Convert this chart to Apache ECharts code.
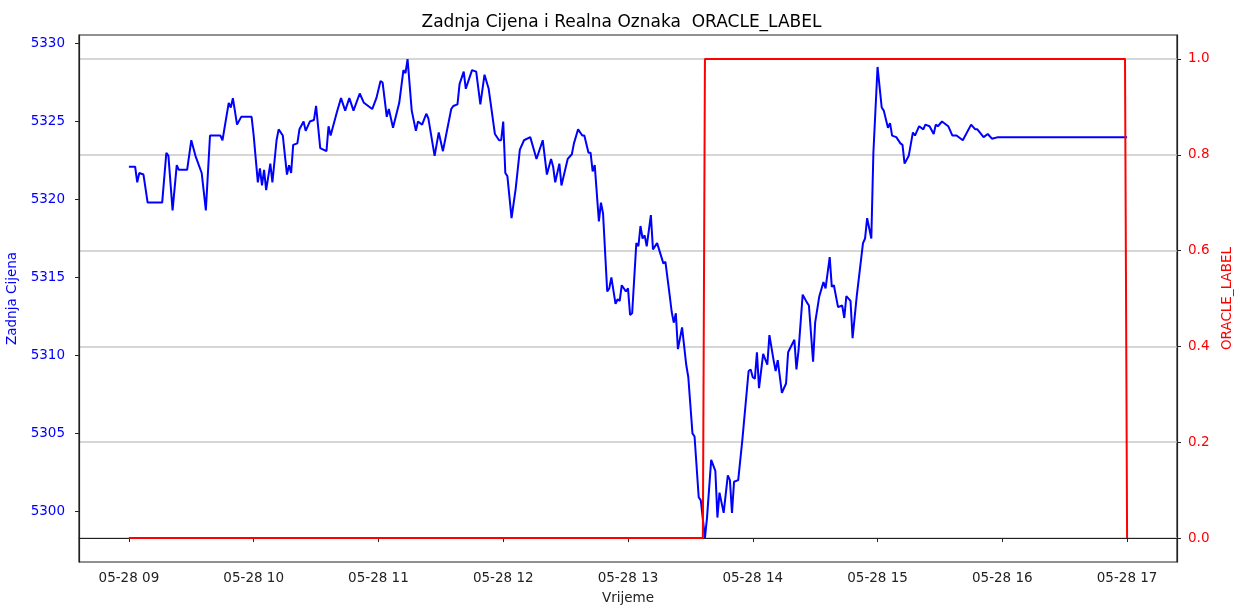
<!DOCTYPE html>
<html>
<head>
<meta charset="utf-8">
<title>Zadnja Cijena i Realna Oznaka</title>
<script src="https://cdn.jsdelivr.net/npm/echarts@6/dist/echarts.min.js"></script>
<style>
  html, body { margin: 0; padding: 0; background: #fff; }
  #chart { width: 1243px; height: 608px; }
</style>
</head>
<body>
<div id="chart"></div>
<script>
// minutes after 05-28 09:00 -> last price (Zadnja Cijena)
const priceMinutes = [
  0, 3, 4, 5, 7, 9, 16, 18, 19, 21, 23, 24, 28, 30, 32, 35, 37, 39, 44, 45,
  48, 49, 50, 52, 54, 59, 60, 62, 63, 64, 65, 66, 68, 69, 71, 72, 74, 76, 77, 78,
  79, 81, 82, 84, 85, 87, 89, 90, 92, 95, 96, 97, 100, 102, 104, 106, 108, 111, 113, 117,
  119, 121, 122, 124, 125, 127, 130, 132, 133, 134, 136, 138, 139, 141, 143, 144, 147, 149, 151, 155,
  156, 158, 159, 161, 162, 165, 167, 169, 171, 173, 176, 178, 179, 180, 181, 182, 184, 186, 188, 190,
  193, 196, 199, 201, 203, 204, 205, 207, 208, 211, 213, 214, 216, 218, 219, 221, 222, 223, 224, 226,
  227, 228, 230, 231, 232, 234, 235, 236, 237, 239, 240, 241, 242, 244, 245, 246, 247, 248, 249, 251,
  252, 254, 257, 258, 260, 261, 262, 263, 264, 266, 268, 269, 271, 272, 274, 275, 277, 278, 280, 282,
  283, 284, 286, 288, 289, 290, 291, 293, 295, 298, 299, 300, 301, 302, 303, 305, 307, 308, 310, 311,
  312, 314, 316, 317, 320, 321, 322, 324, 326, 327, 329, 330, 332, 334, 335, 337, 338, 339, 341, 343,
  344, 345, 347, 348, 350, 353, 354, 355, 357, 358, 360, 362, 363, 365, 366, 367, 369, 371, 372, 373,
  375, 377, 378, 380, 382, 383, 385, 387, 388, 389, 391, 394, 396, 398, 401, 405, 407, 408, 411, 413,
  415, 418, 480
];
const priceValues = [
  5322.1, 5322.1, 5321.1, 5321.7, 5321.6, 5319.8, 5319.8, 5323.0, 5322.8, 5319.3, 5322.2, 5321.9, 5321.9, 5323.8, 5322.8, 5321.7, 5319.3, 5324.1, 5324.1, 5323.8,
  5326.2, 5325.9, 5326.5, 5324.8, 5325.3, 5325.3, 5324.1, 5321.1, 5322.0, 5320.9, 5321.9, 5320.6, 5322.3, 5321.1, 5323.8, 5324.5, 5324.1, 5321.6, 5322.2, 5321.7,
  5323.5, 5323.6, 5324.5, 5325.0, 5324.4, 5325.0, 5325.1, 5326.0, 5323.3, 5323.1, 5324.7, 5324.1, 5325.6, 5326.5, 5325.7, 5326.5, 5325.7, 5326.8, 5326.2, 5325.8,
  5326.5, 5327.6, 5327.5, 5325.3, 5325.8, 5324.6, 5326.2, 5328.3, 5328.1, 5329.0, 5325.7, 5324.4, 5325.0, 5324.8, 5325.5, 5325.2, 5322.8, 5324.3, 5323.1, 5325.8,
  5326.0, 5326.1, 5327.4, 5328.2, 5327.1, 5328.3, 5328.2, 5326.1, 5328.0, 5327.1, 5324.2, 5323.8, 5323.8, 5325.0, 5321.7, 5321.5, 5318.8, 5320.7, 5323.2, 5323.8,
  5324.0, 5322.6, 5323.8, 5321.6, 5322.6, 5322.1, 5321.1, 5322.3, 5320.9, 5322.6, 5322.9, 5323.6, 5324.5, 5324.1, 5324.1, 5323.0, 5323.0, 5321.8, 5322.2, 5318.6,
  5319.8, 5319.1, 5314.1, 5314.3, 5315.0, 5313.3, 5313.6, 5313.5, 5314.5, 5314.1, 5314.3, 5312.6, 5312.7, 5317.2, 5317.0, 5318.3, 5317.5, 5317.7, 5317.0, 5319.0,
  5316.8, 5317.2, 5315.9, 5316.0, 5313.9, 5312.8, 5312.1, 5312.7, 5310.4, 5311.8, 5309.4, 5308.6, 5305.0, 5304.8, 5300.9, 5300.7, 5298.3, 5299.6, 5303.3, 5302.6,
  5299.6, 5301.2, 5299.9, 5302.3, 5302.0, 5299.9, 5301.9, 5302.0, 5304.6, 5309.0, 5309.1, 5308.6, 5308.5, 5310.2, 5307.9, 5310.1, 5309.4, 5311.3, 5309.7, 5309.0,
  5309.7, 5307.6, 5308.2, 5310.2, 5311.0, 5309.1, 5310.3, 5313.9, 5313.4, 5313.2, 5309.6, 5312.1, 5313.8, 5314.7, 5314.3, 5316.3, 5314.4, 5314.5, 5313.1, 5313.2,
  5312.4, 5313.8, 5313.5, 5311.1, 5313.8, 5317.2, 5317.5, 5318.8, 5317.5, 5323.0, 5328.5, 5325.9, 5325.7, 5324.6, 5324.9, 5324.1, 5324.0, 5323.6, 5323.5, 5322.3,
  5322.8, 5324.3, 5324.1, 5324.7, 5324.5, 5324.8, 5324.7, 5324.2, 5324.8, 5324.7, 5325.0, 5324.7, 5324.1, 5324.1, 5323.8, 5324.8, 5324.5, 5324.5, 5324.0, 5324.2,
  5323.9, 5324.0, 5324.0
];

// ORACLE_LABEL: 0 until 13:36, 1 from 13:37, back to 0 at 17:00
const labelMinutes = [0, 276, 277, 479, 480];
const labelValues = [0, 0, 1, 1, 0];

const hourTicks = [9, 10, 11, 12, 13, 14, 15, 16, 17];
const priceTicks = [5300, 5305, 5310, 5315, 5320, 5325, 5330];
const labelTicks = [0, 0.2, 0.4, 0.6, 0.8, 1.0];

const FONT = 'DejaVu Sans';
const start = new Date(2024, 4, 28, 9, 0, 0).getTime();
const toTime = m => start + m * 60000;
const hourTimes = hourTicks.map(h => new Date(2024, 4, 28, h, 0, 0).getTime());

const priceData = priceMinutes.map((m, i) => [toTime(m), priceValues[i]]);
const labelData = labelMinutes.map((m, i) => [toTime(m), labelValues[i]]);

const chart = echarts.init(document.getElementById('chart'));

const option = {
  backgroundColor: '#fff',
  animation: false,
  title: {
    text: 'Zadnja Cijena i Realna Oznaka  ORACLE_LABEL',
    left: 'center',
    top: 9,
    textStyle: { fontFamily: FONT, fontSize: 17, fontWeight: 'normal', color: '#000' }
  },
  grid: {
    left: 79, right: 66, top: 35, bottom: 46,
    show: true, borderColor: '#222', borderWidth: 1.2,
    outerBoundsMode: 'none'
  },
  xAxis: {
    // timestamps on a plain value axis, labelled as "MM-DD HH"
    type: 'value',
    min: toTime(-24),
    max: toTime(504),
    name: 'Vrijeme',
    nameLocation: 'middle',
    nameGap: 29,
    nameTextStyle: { fontFamily: FONT, fontSize: 13.5, color: '#222' },
    axisLine: { show: true, lineStyle: { color: '#222', width: 1.2 } },
    axisTick: { show: true, length: 4, customValues: hourTimes, lineStyle: { color: '#222' } },
    axisLabel: {
      customValues: hourTimes,
      margin: 9,
      fontFamily: FONT, fontSize: 13.5, color: '#222',
      formatter: v => '05-28 ' + String(new Date(v).getHours()).padStart(2, '0')
    },
    splitLine: { show: false }
  },
  yAxis: [
    {
      type: 'value',
      position: 'left',
      min: 5296.75,
      max: 5330.55,
      name: 'Zadnja Cijena',
      nameLocation: 'middle',
      nameRotate: 90,
      nameGap: 46,
      nameTextStyle: { fontFamily: FONT, fontSize: 13.5, color: 'blue' },
      axisLine: { show: true, lineStyle: { color: '#222', width: 1.2 } },
      axisTick: { show: true, length: 4, customValues: priceTicks, lineStyle: { color: '#222' } },
      axisLabel: {
        customValues: priceTicks,
        margin: 14,
        fontFamily: FONT, fontSize: 13.5, color: 'blue',
        formatter: v => String(v)
      },
      splitLine: { show: false }
    },
    {
      type: 'value',
      position: 'right',
      min: -0.05,
      max: 1.05,
      name: 'ORACLE_LABEL',
      nameLocation: 'middle',
      nameRotate: 90,
      nameGap: 34,
      nameTextStyle: { fontFamily: FONT, fontSize: 13.5, color: 'red' },
      axisLine: { show: true, lineStyle: { color: '#222', width: 1.2 } },
      axisTick: { show: true, length: 4, customValues: labelTicks, lineStyle: { color: '#222' } },
      axisLabel: {
        customValues: labelTicks,
        margin: 11,
        fontFamily: FONT, fontSize: 13.5, color: 'red',
        formatter: v => v.toFixed(1)
      },
      splitLine: { show: true, lineStyle: { color: '#c8c8c8', width: 1.5 } }
    }
  ],
  series: [
    {
      name: 'Zadnja Cijena',
      type: 'line',
      yAxisIndex: 0,
      data: priceData,
      symbol: 'none',
      lineStyle: { color: 'blue', width: 2 },
      itemStyle: { color: 'blue' },
      z: 2
    },
    {
      name: 'ORACLE_LABEL',
      type: 'line',
      yAxisIndex: 1,
      data: labelData,
      symbol: 'none',
      lineStyle: { color: 'red', width: 2 },
      itemStyle: { color: 'red' },
      z: 3
    }
  ]
};

chart.setOption(option);
</script>
</body>
</html>
